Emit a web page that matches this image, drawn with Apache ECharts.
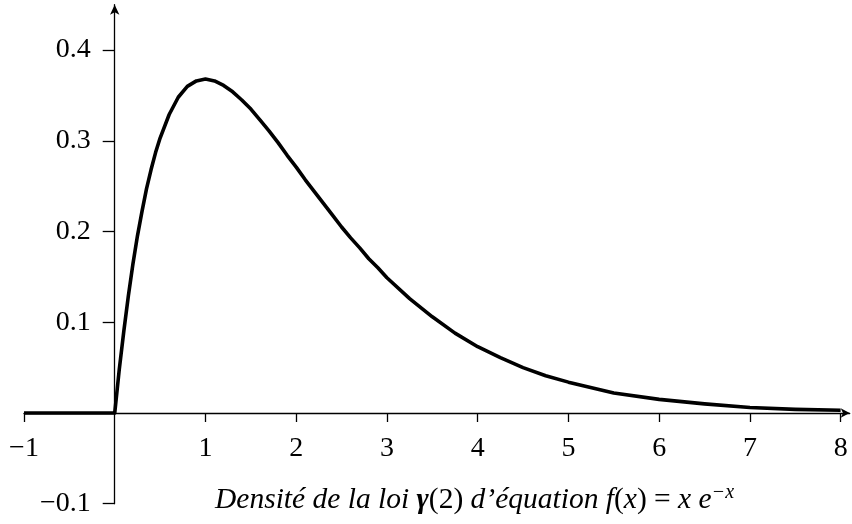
<!DOCTYPE html>
<html>
<head>
<meta charset="utf-8">
<script src="https://cdn.jsdelivr.net/npm/echarts@6/dist/echarts.min.js"></script>
<style>
  html, body { margin: 0; padding: 0; background: #fff; }
  #main { width: 852px; height: 524px; }
</style>
</head>
<body>
<div id="main"></div>
<script>
// densité gamma(2), valeurs
const xs = [-1, 0, 0.05, 0.1, 0.15, 0.2, 0.25, 0.3, 0.35, 0.4, 0.45, 0.5, 0.6, 0.7, 0.8, 0.9, 1, 1.1, 1.2, 1.3, 1.4, 1.5, 1.6, 1.7, 1.8, 1.9, 2, 2.1, 2.2, 2.3, 2.4, 2.5, 2.6, 2.7, 2.8, 2.9, 3, 3.25, 3.5, 3.75, 4, 4.25, 4.5, 4.75, 5, 5.5, 6, 6.5, 7, 7.5, 8]
const ys = [0, 0, 0.048, 0.090, 0.129, 0.164, 0.195, 0.222, 0.247, 0.268, 0.287, 0.303, 0.329, 0.348, 0.360, 0.366, 0.368, 0.366, 0.361, 0.354, 0.345, 0.335, 0.323, 0.311, 0.298, 0.284, 0.271, 0.257, 0.244, 0.231, 0.218, 0.205, 0.193, 0.182, 0.170, 0.160, 0.149, 0.126, 0.106, 0.088, 0.073, 0.061, 0.050, 0.041, 0.034, 0.022, 0.015, 0.010, 0.006, 0.004, 0.003]

const xTicks = [-1, 1, 2, 3, 4, 5, 6, 7, 8]
const yTicks = [-0.1, 0.1, 0.2, 0.3, 0.4]

const chartDom = document.getElementById('main')
const myChart = echarts.init(chartDom)

const font = 'Liberation Serif'
const fmt = v => String(v).replace('-', '\u2212')

// onZero ne déplace pas les étiquettes : on décale les axes à la main
// (une unité en x = 0.1 en y = ~90.7 px)
const shift = -90.7

const option = {
    animation: false,
    title: {
        left: 215,
        top: 483,
        padding: 0,
        text: '{it|Densité de la loi }{g|γ}{up|(2)}{it| d’équation }{it|f}{up|(}{it|x}{up|) = }{it|x e}{sup|−x}',
        textStyle: {
            fontFamily: font,
            fontSize: 29.5,
            fontWeight: 'normal',
            color: '#000',
            rich: {
                it: { fontFamily: font, fontSize: 29.5, fontStyle: 'italic', color: '#000', lineHeight: 34 },
                up: { fontFamily: font, fontSize: 29.5, color: '#000', lineHeight: 34 },
                g: { fontFamily: font, fontSize: 29.5, fontStyle: 'italic', fontWeight: 'bold', color: '#000', lineHeight: 34 },
                sup: { fontFamily: font, fontSize: 20, fontStyle: 'italic', color: '#000', verticalAlign: 'top', lineHeight: 34 }
            }
        }
    },
    grid: {
        left: 24,
        right: 2.3,
        top: 4.7,
        bottom: 20.3,
        outerBounds: { left: -100, right: -100, top: -100, bottom: -100 }
    },
    xAxis: {
        type: 'value',
        min: -1,
        max: 8.1,
        interval: 1,
        offset: shift,
        splitLine: { show: false },
        axisLine: {
            onZero: false,
            symbol: ['none', 'arrow'],
            symbolSize: [7, 9],
            lineStyle: { color: '#000', width: 1.3 }
        },
        axisTick: {
            customValues: xTicks,
            length: 9,
            lineStyle: { color: '#000', width: 1.3 }
        },
        axisLabel: {
            customValues: xTicks,
            formatter: fmt,
            margin: 22,
            fontFamily: font,
            fontSize: 28,
            color: '#000'
        }
    },
    yAxis: {
        type: 'value',
        min: -0.1,
        max: 0.45,
        interval: 0.1,
        offset: shift,
        splitLine: { show: false },
        axisLine: {
            onZero: false,
            symbol: ['none', 'arrow'],
            symbolSize: [7, 10],
            lineStyle: { color: '#000', width: 1.3 }
        },
        axisTick: {
            customValues: yTicks,
            length: 12,
            lineStyle: { color: '#000', width: 1.3 }
        },
        axisLabel: {
            customValues: yTicks,
            formatter: v => fmt(v.toFixed(1)),
            margin: 24,
            fontFamily: font,
            fontSize: 28,
            color: '#000'
        }
    },
    series: [
        {
            type: 'line',
            data: xs.map((x, i) => [x, ys[i]]),
            showSymbol: false,
            lineStyle: { color: '#000', width: 3.6, join: 'round' }
        }
    ]
}

myChart.setOption(option)
</script>
</body>
</html>
